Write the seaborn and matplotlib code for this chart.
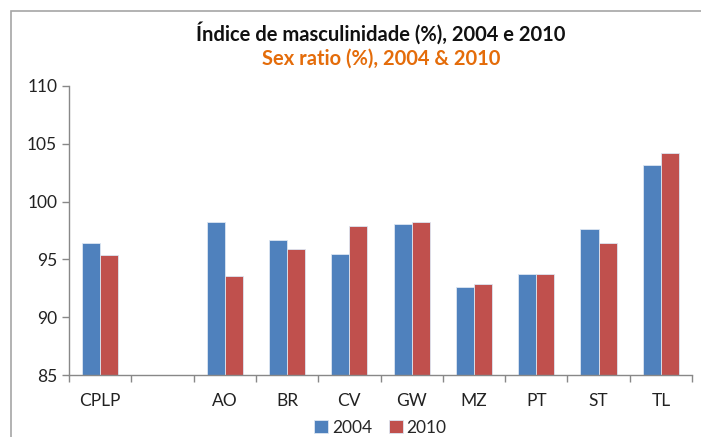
import pandas as pd
import seaborn as sns
import matplotlib.pyplot as plt
from matplotlib.patches import Rectangle
from matplotlib.ticker import FixedLocator

# data
categories = ["CPLP", " ", "AO", "BR", "CV", "GW", "MZ", "PT", "ST", "TL"]
plot_cats = ["CPLP", "AO", "BR", "CV", "GW", "MZ", "PT", "ST", "TL"]
values_2004 = [96.4, 98.2, 96.7, 95.5, 98.1, 92.6, 93.7, 97.6, 103.2]
values_2010 = [95.4, 93.6, 95.9, 97.9, 98.2, 92.9, 93.7, 96.4, 104.2]
years = ["2004", "2010"]
colors = ["#4F81BD", "#C0504D"]

df = pd.DataFrame({
    "pais": plot_cats * 2,
    "ano": [years[0]] * len(plot_cats) + [years[1]] * len(plot_cats),
    "valor": values_2004 + values_2010,
})

sns.set_style("white")
plt.rcParams["font.family"] = ["Lato", "DejaVu Sans"]

fig = plt.figure(figsize=(7.01, 4.37), dpi=100)
ax = fig.add_axes([69 / 701, 1 - 375 / 437, 623 / 701, 289 / 437])

sns.barplot(data=df, x="pais", y="valor", hue="ano", order=categories,
            hue_order=years, palette=colors, saturation=1, width=0.58, ax=ax,
            edgecolor="#dce6f2", linewidth=0.6, legend=True)

ax.set_ylim(85, 110)
ax.set_yticks(range(85, 111, 5))
ax.set_xlim(-0.5, len(categories) - 0.5)
ax.set_xlabel("")
ax.set_ylabel("")

# category labels centred, tick marks between categories (spreadsheet style)
ax.tick_params(axis="x", which="major", length=0, pad=13, labelsize=12.5, labelcolor="#222222")
ax.xaxis.set_minor_locator(FixedLocator([i - 0.5 for i in range(len(categories) + 1)]))
ax.tick_params(axis="x", which="minor", length=5, width=1, color="#888888", bottom=True)
ax.tick_params(axis="y", length=5, width=1, color="#888888", left=True, labelsize=12.5,
               labelcolor="#222222")

for side in ["top", "right"]:
    ax.spines[side].set_visible(False)
for side in ["left", "bottom"]:
    ax.spines[side].set_color("#888888")
    ax.spines[side].set_linewidth(1)

ax.legend(loc="upper center", bbox_to_anchor=(0.5, -0.1), ncol=2, frameon=False,
          fontsize=12.5, handlelength=0.8, handleheight=0.8, handletextpad=0.2,
          columnspacing=1.0)

fig.text(381 / 701, 1 - 33 / 437, "Índice de masculinidade (%), 2004 e 2010",
         ha="center", va="center", fontsize=14.5, fontweight="bold", color="#111111")
fig.text(381 / 701, 1 - 59 / 437, "Sex ratio (%), 2004 & 2010",
         ha="center", va="center", fontsize=14.5, fontweight="bold", color="#E46C0A")

# outer chart frame
fig.patches.append(Rectangle((11 / 701, -0.05), 2, 1 - 11 / 437 + 0.05,
                             transform=fig.transFigure, fill=False,
                             edgecolor="#a6a6a6", linewidth=1.2))

fig.savefig("out.png", dpi=100)
